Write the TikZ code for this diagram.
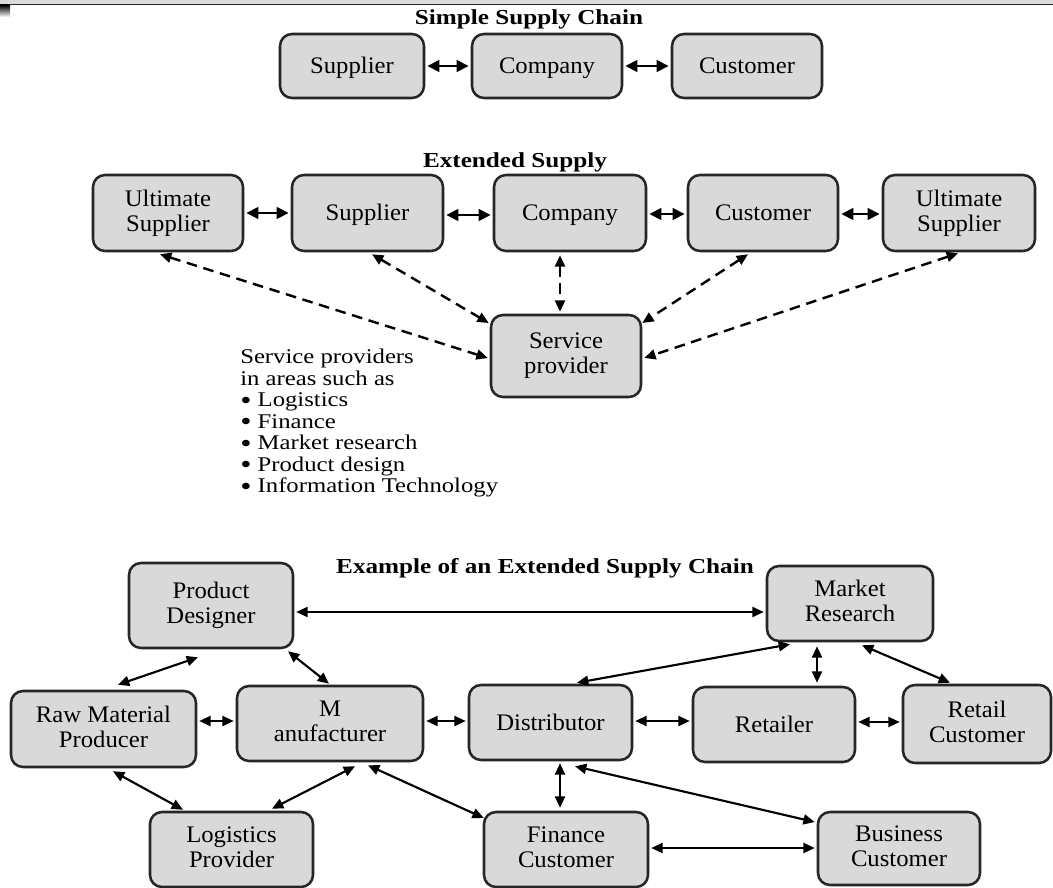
\documentclass[tikz,border=0pt]{standalone}
\usepackage{fontspec}
\setmainfont{Liberation Serif}[FakeStretch=1.18]
\newfontfamily\boxfont{Liberation Serif}[FakeStretch=1.04]
\usetikzlibrary{arrows.meta,calc}
\newcommand\topstrut{\rule{0pt}{15.6pt}}
\newcommand\botstrut{\rule[-4pt]{0pt}{4pt}}
\tikzset{
 box/.style={draw=black!85, line width=1.9pt, fill=black!15, rounded corners=9pt, inner sep=0pt, align=center, font=\boxfont\fontsize{17.8}{18.75}\selectfont, execute at begin node=\topstrut, execute at end node=\botstrut},
 ttl/.style={font=\fontsize{16}{18}\selectfont\bfseries, anchor=base, inner sep=0pt},
 arr/.style={line width=1.6pt, {Triangle[length=8.5pt,width=7.5pt]}-{Triangle[length=8.5pt,width=7.5pt]}},
 barr/.style={line width=2.2pt, {Triangle[length=9pt,width=8.5pt]}-{Triangle[length=9pt,width=8.5pt]}},
 darr/.style={arr, line width=1.8pt, dash pattern=on 8pt off 5pt},
}
\newcommand\bx[6]{\node[box, minimum width={(#4-#2)*0.75pt}, minimum height={(#5-#3)*0.75pt}] (#1) at ({(#2+#4)/2},{(#3+#5)/2}) {#6};}
\newcommand\bul{\smash{\raisebox{-0.13em}{\scalebox{1.3}{\textbullet}}}}
\begin{document}
\begin{tikzpicture}[x=0.75pt,y=-0.75pt]
\useasboundingbox (0,0) rectangle (1053,888);
% top strip
\fill[black!14] (0,0) rectangle (1053,4);
\draw[line width=1.1pt, black!85] (0,4.5) -- (1053,4.5);
\shade[top color=black, bottom color=white] (0,5) rectangle (10,17);

% ---- Simple supply chain
\node[ttl] (t1) at (529,25) {Simple Supply Chain};
\bx{S1}{280}{34}{424}{98}{Supplier}
\bx{C1}{472}{34}{622}{98}{Company}
\bx{Cu1}{672}{34}{822}{98}{Customer}
\draw[barr] ($(S1.east)+(2,0)$) -- ($(C1.west)+(-2,0)$);
\draw[barr] ($(C1.east)+(2,0)$) -- ($(Cu1.west)+(-2,0)$);

% ---- Extended supply
\node[ttl] (t2) at (515,168) {Extended Supply};
\bx{US1}{93}{175}{243}{251}{Ultimate\\Supplier}
\bx{S2}{292}{175}{443}{251}{Supplier}
\bx{Co2}{494}{175}{646}{251}{Company}
\bx{Cu2}{688}{175}{838}{251}{Customer}
\bx{US2}{883}{175}{1035}{251}{Ultimate\\Supplier}
\bx{SP}{491}{315}{641}{397}{Service\\provider}
\draw[barr] ($(US1.east)+(2,0)$) -- ($(S2.west)+(-2,0)$);
\draw[barr] ($(S2.east)+(2,2)$) -- ($(Co2.west)+(-2,2)$);
\draw[barr] ($(Co2.east)+(2,1)$) -- ($(Cu2.west)+(-2,1)$);
\draw[barr] ($(Cu2.east)+(2,1)$) -- ($(US2.west)+(-2,1)$);
\draw[darr] ($(US1.south)+(-8,2)$) -- ($(SP.west)+(-2,2)$);
\draw[darr] ($(S2.south)+(4.5,2)$) -- ($(SP.west)+(-1,-33)$);
\draw[darr] ($(Co2.south)+(-10,3)$) -- ($(SP.north)+(-6,-2)$);
\draw[darr] ($(Cu2.south)+(-15,2)$) -- ($(SP.east)+(0,-33)$);
\draw[darr] ($(US2.south)+(-1,1)$) -- ($(SP.east)+(2,2)$);
\node[anchor=north west, align=left, inner sep=0pt, font=\fontsize{15.7}{16.1}\selectfont] (list) at (240,349)
 {Service providers\\in areas such as\\\bul{} Logistics\\\bul{} Finance\\\bul{} Market research\\\bul{} Product design\\\bul{} Information Technology};

% ---- Example of an extended supply chain
\node[ttl] (t3) at (545,573) {Example of an Extended Supply Chain};
\bx{PD}{129}{563}{293}{648}{Product\\Designer}
\bx{MR}{767}{566}{933}{641}{Market\\Research}
\bx{RMP}{11}{691}{196}{767}{Raw Material\\Producer}
\bx{Mfr}{237}{686}{423}{761}{M\\anufacturer}
\bx{Dist}{469}{685}{632}{760}{Distributor}
\bx{Ret}{693}{687}{855}{762}{Retailer}
\bx{RC}{903}{685}{1051}{763}{Retail\\Customer}
\bx{LP}{150}{812}{313}{887}{Logistics\\Provider}
\bx{FC}{484}{812}{648}{887}{Finance\\Customer}
\bx{BC}{818}{812}{980}{885}{Business\\Customer}

\draw[arr] ($(PD.east)+(2,6.5)$) -- ($(MR.west)+(-2,8.5)$);
\draw[arr] ($(PD.south)+(-13,8)$) -- ($(RMP.north)+(14.5,-5)$);
\draw[arr] ($(PD.south)+(77,2)$) -- ($(Mfr.north)+(-1,-1)$);
\draw[arr] ($(RMP.east)+(2,-8)$) -- ($(Mfr.west)+(-2,-2.5)$);
\draw[arr] ($(Mfr.east)+(2,-2.5)$) -- ($(Dist.west)+(-2,-1.5)$);
\draw[arr] ($(RMP.south)+(9.5,3)$) -- ($(LP.north)+(-48.5,-1)$);
\draw[arr] ($(Mfr.south)+(25,4)$) -- ($(LP.north)+(40.5,-2)$);
\draw[arr] ($(Mfr.south)+(38,3)$) -- ($(FC.west)+(1,-31.5)$);
\draw[arr] ($(Dist.east)+(2,-1.5)$) -- ($(Ret.west)+(-2,-3.5)$);
\draw[arr] ($(Ret.east)+(2,-2.5)$) -- ($(RC.west)+(-2,-2)$);
\draw[arr] ($(MR.south)+(-60,2)$) -- ($(Dist.north)+(26.5,-1)$);
\draw[arr] ($(MR.south)+(-33,4)$) -- ($(Ret.north)+(43,-3)$);
\draw[arr] ($(MR.south)+(12,3)$) -- ($(RC.north)+(-27,-1)$);
\draw[arr] ($(Dist.south)+(9.5,2)$) -- ($(FC.north)+(-6,-3)$);
\draw[arr] ($(Dist.south)+(24.5,5)$) -- ($(BC.west)+(-2,-26.5)$);
\draw[arr] ($(FC.east)+(2,-1.5)$) -- ($(BC.west)+(-2,-0.5)$);
\end{tikzpicture}
\end{document}
